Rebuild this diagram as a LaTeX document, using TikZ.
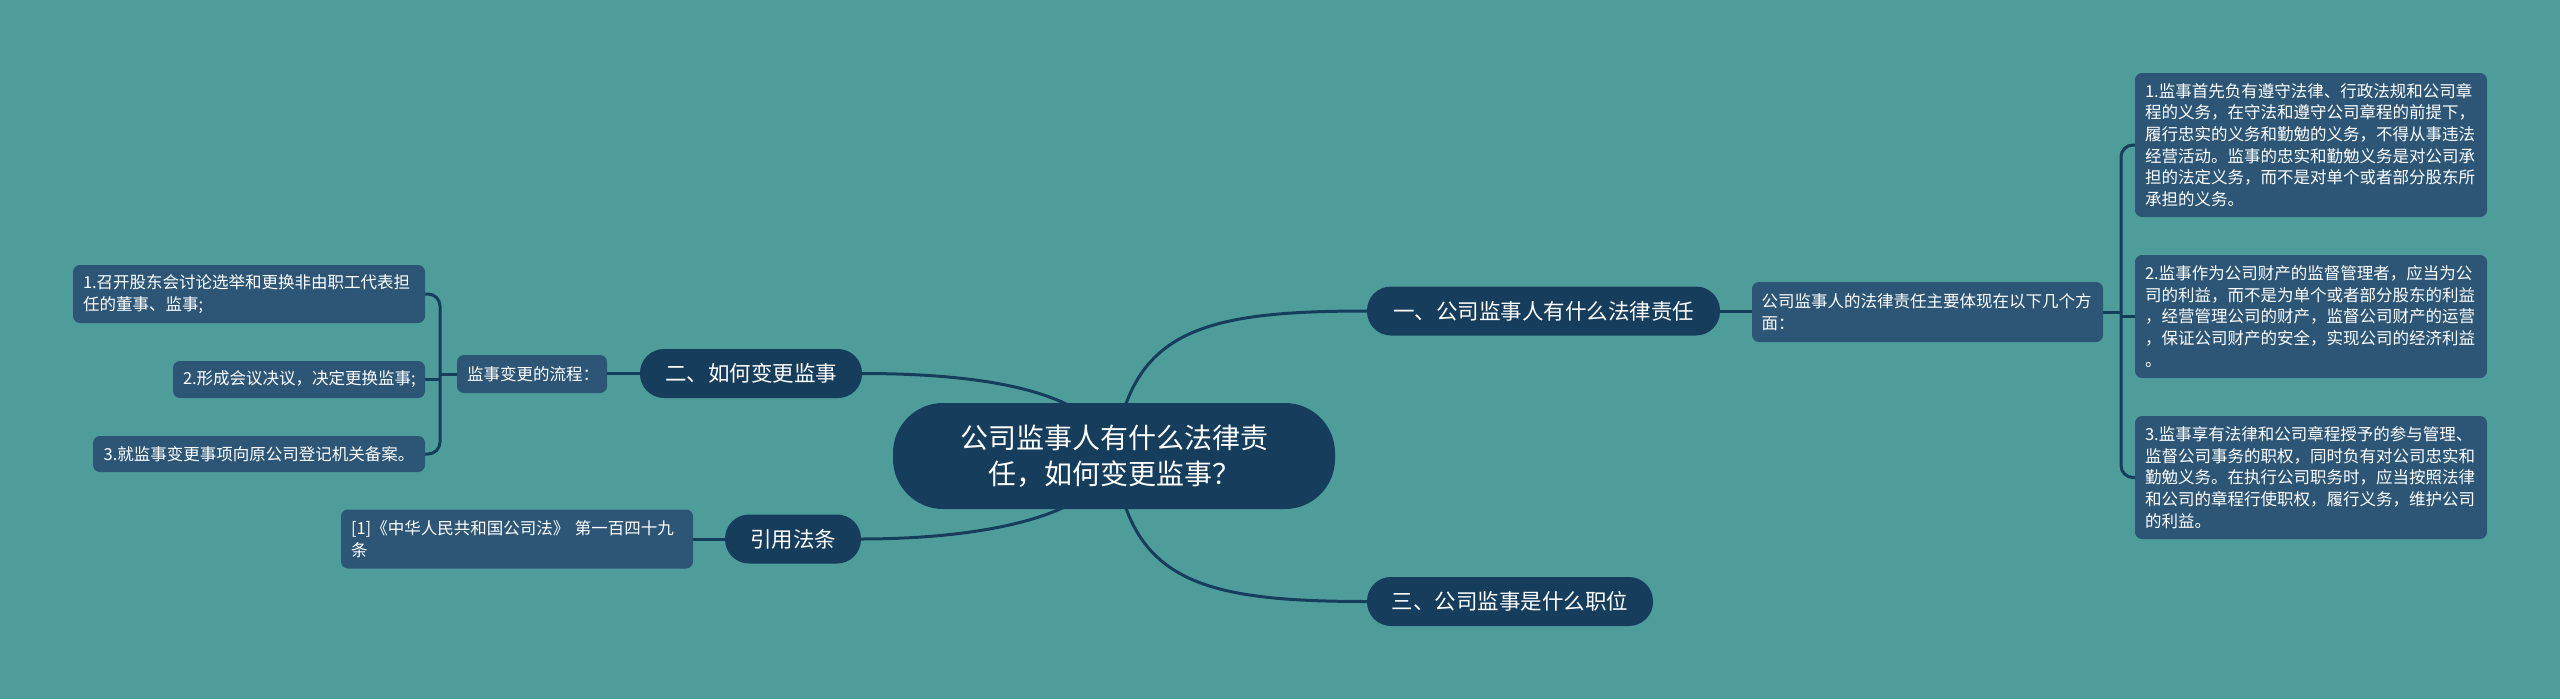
\documentclass[tikz,border=0pt]{standalone}
\usepackage{fontspec}
\newfontfamily\cjk{Noto Sans CJK SC}
\usetikzlibrary{backgrounds}
\definecolor{bgc}{HTML}{4E9D9B}
\definecolor{navy}{HTML}{173D5D}
\definecolor{leafc}{HTML}{2D5676}
\definecolor{linec}{HTML}{173D5D}
\begin{document}
\begin{tikzpicture}[x=1pt,y=-1pt,
  rootbox/.style={fill=navy, text=white, rounded corners=50pt, minimum width=442pt, minimum height=106pt, inner sep=0pt, align=center, font=\cjk\fontsize{28}{36}\selectfont},
  topic/.style={fill=navy, text=white, rounded corners=24pt, minimum height=49pt, inner sep=0pt, font=\cjk\fontsize{21.5}{26}\selectfont},
  leaf/.style={fill=leafc, text=white, rounded corners=7pt, inner xsep=10pt, inner ysep=0pt, align=left, font=\cjk\fontsize{16.5}{21.7}\selectfont},
  conn/.style={draw=linec, line width=3pt},
  brk/.style={draw=linec, line width=3pt, rounded corners=12pt}]
\useasboundingbox (0,0) rectangle (2560,699);

% root
\node[rootbox] (root) at (1114,456) {公司监事人有什么法律责\\任，如何变更监事？};

% level 1
\node[topic, minimum width=353pt] (t1) at (1543.5,311) {一、公司监事人有什么法律责任};
\node[topic, minimum width=222pt] (t2) at (751,373.5) {二、如何变更监事};
\node[topic, minimum width=136pt] (t3) at (793,539) {引用法条};
\node[topic, minimum width=286pt] (t4) at (1510,601.5) {三、公司监事是什么职位};

% level 2
\node[leaf, text width=332pt, inner xsep=9.5pt, minimum height=60pt] (m1) at (1927.5,312) {公司监事人的法律责任主要体现在以下几个方\\面：};
\node[leaf, align=center, text width=130pt, minimum height=38pt] (m2) at (532,374) {监事变更的流程：};
\node[leaf, text width=332pt, minimum height=59pt] (ref) at (517,539) {[1]《中华人民共和国公司法》~第一百四十九\\条};

% right leaves
\node[leaf, text width=332pt, minimum height=144pt] (r1) at (2311,145) {1.监事首先负有遵守法律、行政法规和公司章\\程的义务，在守法和遵守公司章程的前提下，\\履行忠实的义务和勤勉的义务，不得从事违法\\经营活动。监事的忠实和勤勉义务是对公司承\\担的法定义务，而不是对单个或者部分股东所\\承担的义务。};
\node[leaf, text width=332pt, minimum height=123pt] (r2) at (2311,316.5) {2.监事作为公司财产的监督管理者，应当为公\\司的利益，而不是为单个或者部分股东的利益\\，经营管理公司的财产，监督公司财产的运营\\，保证公司财产的安全，实现公司的经济利益\\。};
\node[leaf, text width=332pt, minimum height=123pt] (r3) at (2311,477.5) {3.监事享有法律和公司章程授予的参与管理、\\监督公司事务的职权，同时负有对公司忠实和\\勤勉义务。在执行公司职务时，应当按照法律\\和公司的章程行使职权，履行义务，维护公司\\的利益。};

% left leaves
\node[leaf, text width=332pt, minimum height=58pt] (l1) at (249,294) {1.召开股东会讨论选举和更换非由职工代表担\\任的董事、监事;};
\node[leaf, align=center, text width=232pt, minimum height=37pt] (l2) at (299,379.5) {2.形成会议决议，决定更换监事;};
\node[leaf, align=center, text width=312pt, minimum height=36pt] (l3) at (259,454) {3.就监事变更事项向原公司登记机关备案。};

\coordinate (br) at (2121,312);
\coordinate (bl) at (440,374);

\begin{scope}[on background layer]
  \fill[bgc] (0,0) rectangle (2560,699);
  % root connectors
  \draw[conn] (root.center) .. controls +(16,-125) and +(-167,0) .. (t1.west);
  \draw[conn] (root.center) .. controls +(16,125) and +(-167,0) .. (t4.west);
  \draw[conn] (root.center) .. controls +(-14,-66) and +(118,0) .. (t2.east);
  \draw[conn] (root.center) .. controls +(-14,64) and +(110,0) .. (t3.east);
  % topic to second level
  \draw[conn] (t1.east) -- (t1.east -| m1.west);
  \draw[conn] (t2.west) -- (t2.west -| m2.east);
  \draw[conn] (t3.west) -- (ref.east);
  % right bracket
  \draw[conn] (m1.east) -- (br);
  \draw[brk] (br) |- (r1.west);
  \draw[brk] (br) |- (r3.west);
  \draw[conn] (r2.west) -- (r2.west -| br);
  % left bracket
  \draw[conn] (m2.west) -- (bl);
  \draw[brk] (bl) |- (l1.east);
  \draw[brk] (bl) |- (l3.east);
  \draw[conn] (l2.east) -- (l2.east -| bl);
\end{scope}
\end{tikzpicture}
\end{document}
